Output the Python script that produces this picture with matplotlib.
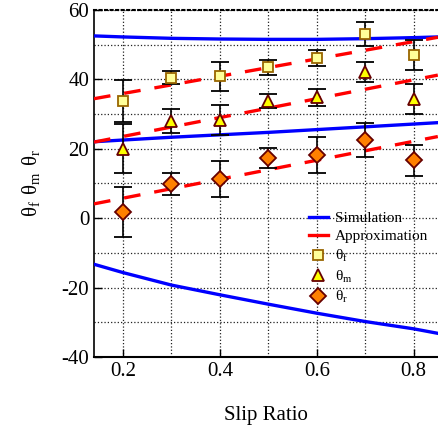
import numpy as np
import matplotlib
matplotlib.use('Agg')
import matplotlib.pyplot as plt
from matplotlib.ticker import MultipleLocator
from matplotlib.lines import Line2D

slip = [0.2, 0.3, 0.4, 0.5, 0.6, 0.7, 0.8]
theta_f = [33.8, 40.5, 40.9, 43.4, 46.1, 53.0, 47.0]
theta_f_err = [6.0, 2.0, 4.2, 2.1, 2.2, 3.4, 4.2]
theta_m = [20.0, 27.9, 28.2, 33.7, 34.8, 42.2, 34.4]
theta_m_err = [7.0, 3.4, 4.3, 2.1, 2.5, 2.9, 4.3]
theta_r = [1.8, 9.8, 11.3, 17.3, 18.3, 22.6, 16.6]
theta_r_err = [7.3, 3.1, 5.1, 3.0, 5.2, 4.9, 4.5]

# simulation curves
sim_x = [0.14, 0.2, 0.3, 0.4, 0.5, 0.6, 0.7, 0.8, 0.85]
sim_f = [52.5, 52.2, 51.8, 51.6, 51.5, 51.5, 51.7, 52.0, 52.2]
sim_m = [22.0, 22.5, 23.3, 24.0, 24.7, 25.5, 26.3, 27.1, 27.5]
sim_r = [-13.3, -15.7, -19.3, -22.1, -24.8, -27.4, -29.8, -31.9, -33.2]

# approximation lines (straight)
app_x = [0.14, 0.85]
app_f = [34.4, 52.1]
app_m = [21.9, 41.2]
app_r = [4.1, 23.5]

plt.rcParams['font.family'] = ['Liberation Serif', 'DejaVu Serif']
plt.rcParams['mathtext.fontset'] = 'custom'
plt.rcParams['mathtext.rm'] = 'Liberation Serif'
plt.rcParams['axes.unicode_minus'] = False

fig = plt.figure(figsize=(4.38, 4.29), dpi=100)
ax = fig.add_axes([0.2146, 0.168, 0.785, 0.809])

blue = '#0000ff'
red = '#ff0000'
lw = 2.4
dash = (0, (5.0, 4.2))

ax.plot(sim_x, sim_f, color=blue, lw=lw, zorder=3)
ax.plot(sim_x, sim_m, color=blue, lw=lw, zorder=3)
ax.plot(sim_x, sim_r, color=blue, lw=lw, zorder=3)

ax.plot(app_x, app_f, color=red, lw=lw, ls=dash, zorder=3)
ax.plot(app_x, app_m, color=red, lw=lw, ls=dash, zorder=3)
ax.plot(app_x, app_r, color=red, lw=lw, ls=dash, zorder=3)

sq = dict(marker='s', ms=7.5, mfc='#ffff99', mec='#996600', mew=1.3)
tri = dict(marker='^', ms=9, mfc='#ffff00', mec='#660000', mew=1.3)
dia = dict(marker='D', ms=8, mfc='#ff8000', mec='#660000', mew=1.3)

ebkw = dict(ecolor='black', elinewidth=1.2, capsize=6.5, capthick=1.5, ls='none', zorder=4)
ax.errorbar(slip, theta_f, yerr=theta_f_err, **sq, **ebkw)
ax.errorbar(slip, theta_m, yerr=theta_m_err, **tri, **ebkw)
ax.errorbar(slip, theta_r, yerr=theta_r_err, **dia, **ebkw)

ax.set_xlim(0.14, 0.85)
ax.set_ylim(-40, 60)
ax.xaxis.set_minor_locator(MultipleLocator(0.1))
ax.yaxis.set_major_locator(MultipleLocator(20))
ax.yaxis.set_minor_locator(MultipleLocator(10))
ax.set_xticks([0.2, 0.4, 0.6, 0.8])
ax.set_xticklabels(['0.2', '0.4', '0.6', '0.8'])
ax.grid(True, which='both', color='#222222', ls=':', lw=0.9, zorder=0)
ax.tick_params(which='both', direction='in', labelsize=15, top=False, right=False)
ax.tick_params(which='major', length=6, width=1)
ax.tick_params(which='minor', length=0)
ax.spines['right'].set_visible(False)
ax.spines['top'].set_linestyle(':')
ax.spines['top'].set_linewidth(1.5)
ax.spines['left'].set_linewidth(1.2)
ax.spines['bottom'].set_linewidth(1.5)

ax.set_xlabel('Slip Ratio', fontsize=15, labelpad=18)
ax.set_ylabel(r'$\mathregular{\theta_f\ \theta_m\ \theta_r}$', fontsize=15, labelpad=14)

handles = [Line2D([], [], color=blue, lw=lw),
           Line2D([], [], color=red, lw=lw),
           Line2D([], [], ls='none', **sq),
           Line2D([], [], ls='none', **tri),
           Line2D([], [], ls='none', **dia)]
labels = ['Simulation', 'Approximation', r'$\mathregular{\theta_f}$',
          r'$\mathregular{\theta_m}$', r'$\mathregular{\theta_r}$']
ax.legend(handles, labels, loc='lower right', bbox_to_anchor=(1.0, 0.122), frameon=False,
          fontsize=11, handlelength=1.2, handletextpad=0.5, labelspacing=0.3,
          borderaxespad=0.2)

fig.savefig('out.png', dpi=100)
